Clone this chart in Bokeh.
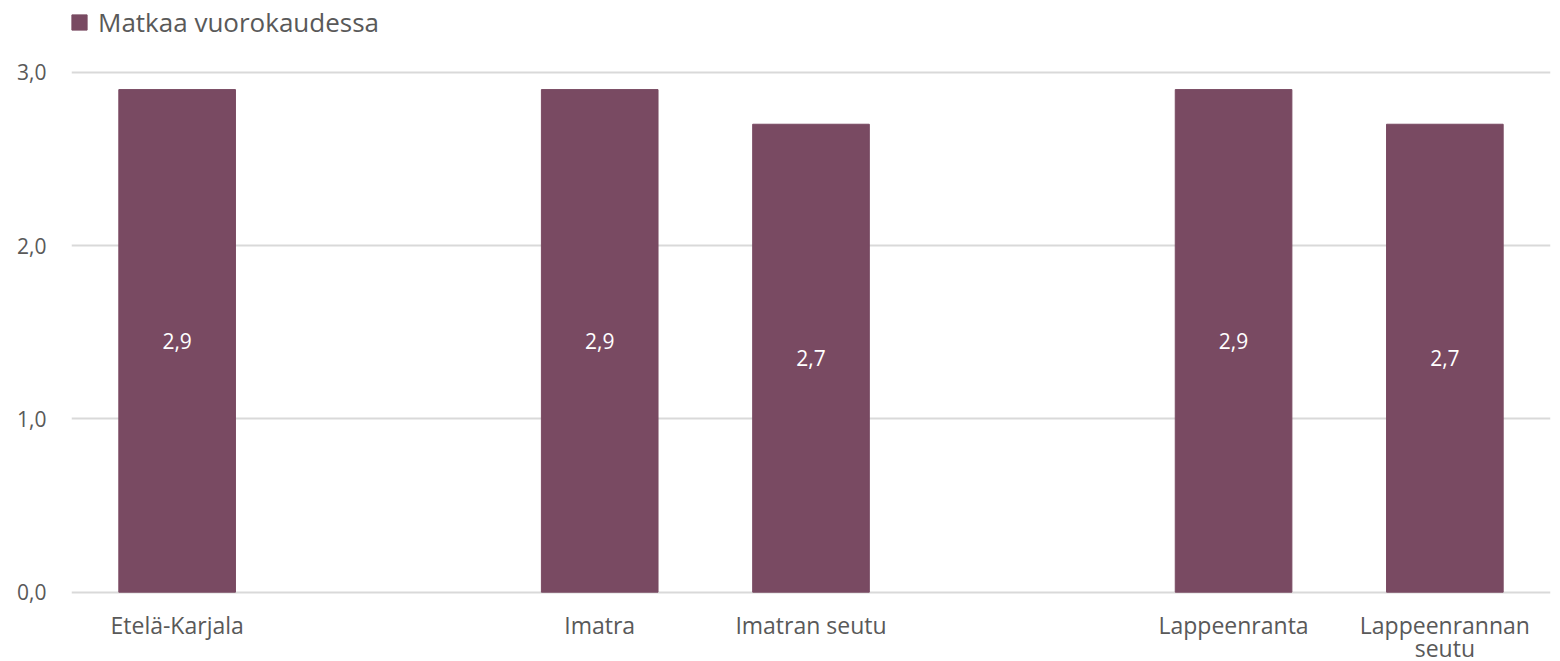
from bokeh.plotting import figure
from bokeh.models import Range1d, FixedTicker, Legend, LegendItem, ColumnDataSource, LabelSet
from bokeh.core.properties import value
from bokeh.embed import file_html
from bokeh.resources import INLINE

categories = ["Etelä-Karjala", " ", "Imatra", "Imatran seutu", "  ", "Lappeenranta", "Lappeenrannan\nseutu"]
values = [2.9, None, 2.9, 2.7, None, 2.9, 2.7]
series_name = "Matkaa vuorokaudessa"
y_ticks = [0, 1, 2, 3]
y_tick_labels = ["0,0", "1,0", "2,0", "3,0"]

FONT = "Open Sans"
TXT = "#595959"
BAR = "#794A62"

xs = [c for c, v in zip(categories, values) if v is not None]
ys = [v for v in values if v is not None]
src = ColumnDataSource(dict(x=xs, top=ys, mid=[v / 2 for v in ys],
                            lab=[f"{v:.1f}".replace(".", ",") for v in ys]))
line1 = [c.split("\n")[0] for c in categories]
line2 = [c.split("\n")[1] if "\n" in c else "" for c in categories]
cat_src = ColumnDataSource(dict(x=categories, y=[0] * len(categories), l1=line1, l2=line2))

p = figure(x_range=categories, y_range=Range1d(-0.400, 3.414), width=1552, height=661,
           output_backend="svg", toolbar_location=None,
           min_border_left=71, min_border_right=2, min_border_bottom=0, min_border_top=0)
p.outline_line_color = None
p.background_fill_color = "white"
p.border_fill_color = "white"

r = p.vbar(x="x", top="top", bottom=0, width=0.552, source=src, color=BAR)
# legend swatch: squares hidden inside the bars (same colour), used only for the legend
swatch = p.scatter(x="x", y="mid", source=src, marker="square", size=15, color=BAR)

labels = LabelSet(x="x", y="mid", text="lab", source=src, text_color="white",
                  text_font=value(FONT), text_font_size="21px", text_align="center",
                  text_baseline="middle")
p.add_layout(labels)

cat_labels1 = LabelSet(x="x", y="y", text="l1", source=cat_src, text_color=TXT,
                       text_font=value(FONT), text_font_size="23px", text_align="center",
                       text_baseline="middle", y_offset=-33)
cat_labels2 = LabelSet(x="x", y="y", text="l2", source=cat_src, text_color=TXT,
                       text_font=value(FONT), text_font_size="23px", text_align="center",
                       text_baseline="middle", y_offset=-56)
p.add_layout(cat_labels1)
p.add_layout(cat_labels2)

p.xaxis.visible = False

p.yaxis.ticker = FixedTicker(ticks=y_ticks)
p.yaxis.major_label_overrides = {t: l for t, l in zip(y_ticks, y_tick_labels)}
p.yaxis.axis_line_color = None
p.yaxis.major_tick_line_color = None
p.yaxis.minor_tick_line_color = None
p.yaxis.major_label_text_font = FONT
p.yaxis.major_label_text_font_size = "21px"
p.yaxis.major_label_text_color = TXT
p.yaxis.major_label_standoff = 19

p.xgrid.grid_line_color = None
p.ygrid.grid_line_color = "#d9d9d9"
p.ygrid.grid_line_width = 2

legend = Legend(items=[LegendItem(label=series_name, renderers=[swatch])],
                location=(-11, 620), orientation="horizontal",
                glyph_width=38, glyph_height=38, label_standoff=-8,
                label_text_font=FONT, label_text_font_size="26px",
                label_text_color=TXT, border_line_color=None,
                background_fill_alpha=0, padding=0, margin=0)
p.add_layout(legend)

open("out.html", "w").write(file_html(p, INLINE))
